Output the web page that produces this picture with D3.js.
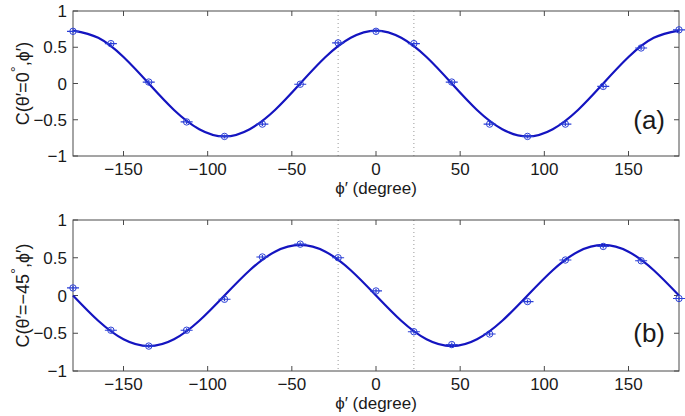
<!DOCTYPE html>
<html>
<head>
<meta charset="utf-8">
<script src="https://cdn.jsdelivr.net/npm/d3@7"></script>
<style>
  body { margin: 0; background: #fff; }
  svg { font-family: "Liberation Sans", Arial, sans-serif; }
</style>
</head>
<body>
<svg id="render" width="685" height="416"></svg>
<script>
// measured points, every 22.5 degrees
const phi = [-180, -157.5, -135, -112.5, -90, -67.5, -45, -22.5, 0, 22.5, 45, 67.5, 90, 112.5, 135, 157.5, 180];
const dataA = [0.72, 0.55, 0.02, -0.53, -0.73, -0.56, -0.01, 0.56, 0.72, 0.55, 0.02, -0.56, -0.73, -0.56, -0.04, 0.49, 0.74];
const dataB = [0.10, -0.46, -0.67, -0.46, -0.05, 0.51, 0.68, 0.50, 0.06, -0.48, -0.65, -0.51, -0.08, 0.47, 0.65, 0.46, -0.04];

// fitted curves, read every 15 degrees
const phiFit = [-180, -165, -150, -135, -120, -105, -90, -75, -60, -45, -30, -15, 0, 15, 30, 45, 60, 75, 90, 105, 120, 135, 150, 165, 180];
const fitA = [0.73, 0.63, 0.365, 0, -0.365, -0.63, -0.73, -0.63, -0.365, 0, 0.365, 0.63, 0.73, 0.63, 0.365, 0, -0.365, -0.63, -0.73, -0.63, -0.365, 0, 0.365, 0.63, 0.73];
const fitB = [0, -0.335, -0.58, -0.67, -0.58, -0.335, 0, 0.335, 0.58, 0.67, 0.58, 0.335, 0, -0.335, -0.58, -0.67, -0.58, -0.335, 0, 0.335, 0.58, 0.67, 0.58, 0.335, 0];

const xTicks = [-150, -100, -50, 0, 50, 100, 150];
const yTicks = [-1, -0.5, 0, 0.5, 1];
const guides = [-22.5, 22.5];

const svg = d3.select("svg#render");
const x = d3.scaleLinear().domain([-180, 180]).range([73, 679]);

const lineCol = "#1414c0";
const markCol = "#2b3fd6";
const boxCol = "#4a4a4a";

const fmt = v => (v < 0 ? "\u2212" : "") + Math.abs(v);

const panel = (top, bottom, pts, fit, thetaText, tag) => {
    const y = d3.scaleLinear().domain([-1, 1]).range([bottom, top]);
    const g = svg.append("g");

    g.selectAll(".guide")
        .data(guides)
        .enter()
        .append("line")
        .attr("x1", d => x(d)).attr("x2", d => x(d))
        .attr("y1", top).attr("y2", bottom)
        .attr("stroke", "#999")
        .attr("stroke-dasharray", "1,3")
        .attr("stroke-width", 1);

    // box
    g.append("rect")
        .attr("x", x(-180)).attr("y", top)
        .attr("width", x(180) - x(-180)).attr("height", bottom - top)
        .attr("fill", "none")
        .attr("stroke", boxCol)
        .attr("stroke-width", 1);

    // inward ticks on all four sides
    g.append("g").selectAll("line")
        .data(xTicks)
        .enter()
        .append("path")
        .attr("d", d => `M${x(d)},${bottom}v-5M${x(d)},${top}v5`)
        .attr("stroke", boxCol);
    g.append("g").selectAll("line")
        .data(yTicks)
        .enter()
        .append("path")
        .attr("d", d => `M${x(-180)},${y(d)}h5M${x(180)},${y(d)}h-5`)
        .attr("stroke", boxCol);

    g.append("g").selectAll("text")
        .data(xTicks)
        .enter()
        .append("text")
        .attr("x", d => x(d))
        .attr("y", bottom + 19)
        .attr("text-anchor", "middle")
        .attr("font-size", 17)
        .attr("fill", "#1a1a1a")
        .text(fmt);
    g.append("g").selectAll("text")
        .data(yTicks)
        .enter()
        .append("text")
        .attr("x", 67)
        .attr("y", d => y(d) + 6)
        .attr("text-anchor", "end")
        .attr("font-size", 17)
        .attr("fill", "#1a1a1a")
        .text(fmt);

    const line = d3.line()
        .x((d, i) => x(phiFit[i]))
        .y(d => y(d))
        .curve(d3.curveNatural);
    g.append("path")
        .datum(fit)
        .attr("d", line)
        .attr("fill", "none")
        .attr("stroke", lineCol)
        .attr("stroke-width", 2.2);

    const m = g.append("g").selectAll("g")
        .data(pts)
        .enter()
        .append("g")
        .attr("transform", (d, i) => `translate(${x(phi[i])}, ${y(d)})`);
    m.append("path")
        .attr("d", "M-6,0H6M0,-2V2")
        .attr("stroke", markCol)
        .attr("stroke-width", 1.2);
    m.append("circle")
        .attr("r", 3.2)
        .attr("fill", "none")
        .attr("stroke", markCol)
        .attr("stroke-width", 1);

    // axis labels
    g.append("text")
        .attr("x", x(0))
        .attr("y", bottom + 38)
        .attr("text-anchor", "middle")
        .attr("font-size", 17)
        .attr("fill", "#1a1a1a")
        .text("\u03d5\u2032 (degree)");

    const yl = g.append("text")
        .attr("transform", `translate(29, ${(top + bottom) / 2}) rotate(-90)`)
        .attr("text-anchor", "middle")
        .attr("font-size", 18)
        .attr("fill", "#1a1a1a");
    yl.append("tspan").text(`C(\u03b8\u2032=${thetaText}`);
    yl.append("tspan").attr("dy", -8).attr("font-size", 15).text("\u00b0");
    yl.append("tspan").attr("dy", 8).text(",\u03d5\u2032)");

    g.append("text")
        .attr("x", 665)
        .attr("y", y(-0.5) + 9)
        .attr("text-anchor", "end")
        .attr("font-size", 26)
        .attr("fill", "#1a1a1a")
        .text(tag);
};

panel(11, 156, dataA, fitA, "0", "(a)");
panel(220, 371, dataB, fitB, "\u221245", "(b)");
</script>
</body>
</html>
